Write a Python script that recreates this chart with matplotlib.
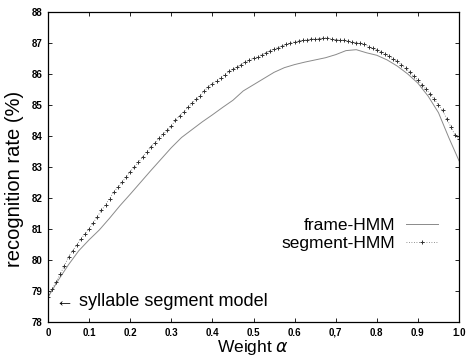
import numpy as np
import matplotlib
matplotlib.use("Agg")
import matplotlib.pyplot as plt

plt.rcParams['font.family'] = ['Liberation Sans', 'DejaVu Sans']

# segment-HMM, read every 0.01
seg_alpha = np.round(np.arange(0, 101) * 0.01, 2)
seg_rate = [78.80, 79.05, 79.30, 79.55, 79.82, 80.10, 80.30, 80.48, 80.68, 80.85,
            81.00, 81.20, 81.40, 81.60, 81.78, 81.98, 82.20, 82.35, 82.50, 82.68,
            82.85, 83.00, 83.15, 83.32, 83.48, 83.65, 83.78, 83.92, 84.05, 84.18,
            84.32, 84.50, 84.65, 84.78, 84.92, 85.05, 85.18, 85.30, 85.45, 85.58,
            85.68, 85.78, 85.88, 85.98, 86.08, 86.15, 86.22, 86.30, 86.38, 86.45,
            86.50, 86.55, 86.62, 86.68, 86.75, 86.80, 86.85, 86.90, 86.95, 87.00,
            87.03, 87.06, 87.08, 87.10, 87.12, 87.13, 87.14, 87.16, 87.16, 87.12,
            87.10, 87.10, 87.08, 87.05, 87.03, 87.00, 86.98, 86.95, 86.88, 86.82,
            86.77, 86.72, 86.65, 86.58, 86.48, 86.40, 86.30, 86.18, 86.05, 85.92,
            85.80, 85.65, 85.50, 85.35, 85.18, 85.00, 84.82, 84.55, 84.30, 84.03,
            83.90]

# frame-HMM, read every 0.025
frame_alpha = np.round(np.arange(0, 41) * 0.025, 3)
frame_rate = [78.80, 79.35, 79.85, 80.30, 80.65, 80.97, 81.35, 81.75, 82.12, 82.50,
              82.88, 83.25, 83.62, 83.95, 84.20, 84.45, 84.68, 84.92, 85.15, 85.45,
              85.65, 85.85, 86.05, 86.20, 86.30, 86.38, 86.45, 86.52, 86.62, 86.75,
              86.78, 86.68, 86.60, 86.45, 86.25, 86.00, 85.70, 85.28, 84.75, 83.95,
              83.20]

xticks = [0, 0.1, 0.2, 0.3, 0.4, 0.5, 0.6, 0.7, 0.8, 0.9, 1.0]
xticklabels = ["0", "0.1", "0.2", "0.3", "0.4", "0.5", "0.6", "0,7", "0.8", "0.9", "1.0"]
yticks = list(range(78, 89))

fig = plt.figure(figsize=(4.66, 3.59), dpi=100)
ax = fig.add_axes([0.103, 0.103, 0.882, 0.864])

ax.plot(frame_alpha, frame_rate, color="#8a8a8a", lw=0.7, label="frame-HMM")
ax.plot(seg_alpha, seg_rate, color="#707070", lw=0.6, ls=(0, (1, 2)),
        marker="+", markersize=3, markeredgewidth=0.7, markeredgecolor="#303030",
        label="segment-HMM")

ax.set_xlim(0, 1.0)
ax.set_ylim(78, 88)
ax.set_xticks(xticks)
ax.set_xticklabels(xticklabels)
ax.set_yticks(yticks)
ax.tick_params(direction="in", top=True, right=True, length=3, width=0.6,
               labelsize=7, pad=4)
for lab in ax.get_xticklabels() + ax.get_yticklabels():
    lab.set_fontweight("bold")
for s in ax.spines.values():
    s.set_linewidth(0.9)

ax.set_xlabel("Weight $\\alpha$", fontsize=12.5, labelpad=0)
ax.set_ylabel("recognition rate (%)", fontsize=14.5)
ax.yaxis.set_label_coords(-0.058, 0.46)

ax.annotate("\u2190 syllable segment model", xy=(0.02, 78.65), fontsize=13,
            va="center", ha="left")

ax.legend(loc="upper right", bbox_to_anchor=(0.97, 0.365), frameon=False,
          markerfirst=False, fontsize=12.5, handlelength=1.85, handletextpad=0.6,
          labelspacing=0.2, borderpad=0)

fig.savefig("out.png", dpi=100)
